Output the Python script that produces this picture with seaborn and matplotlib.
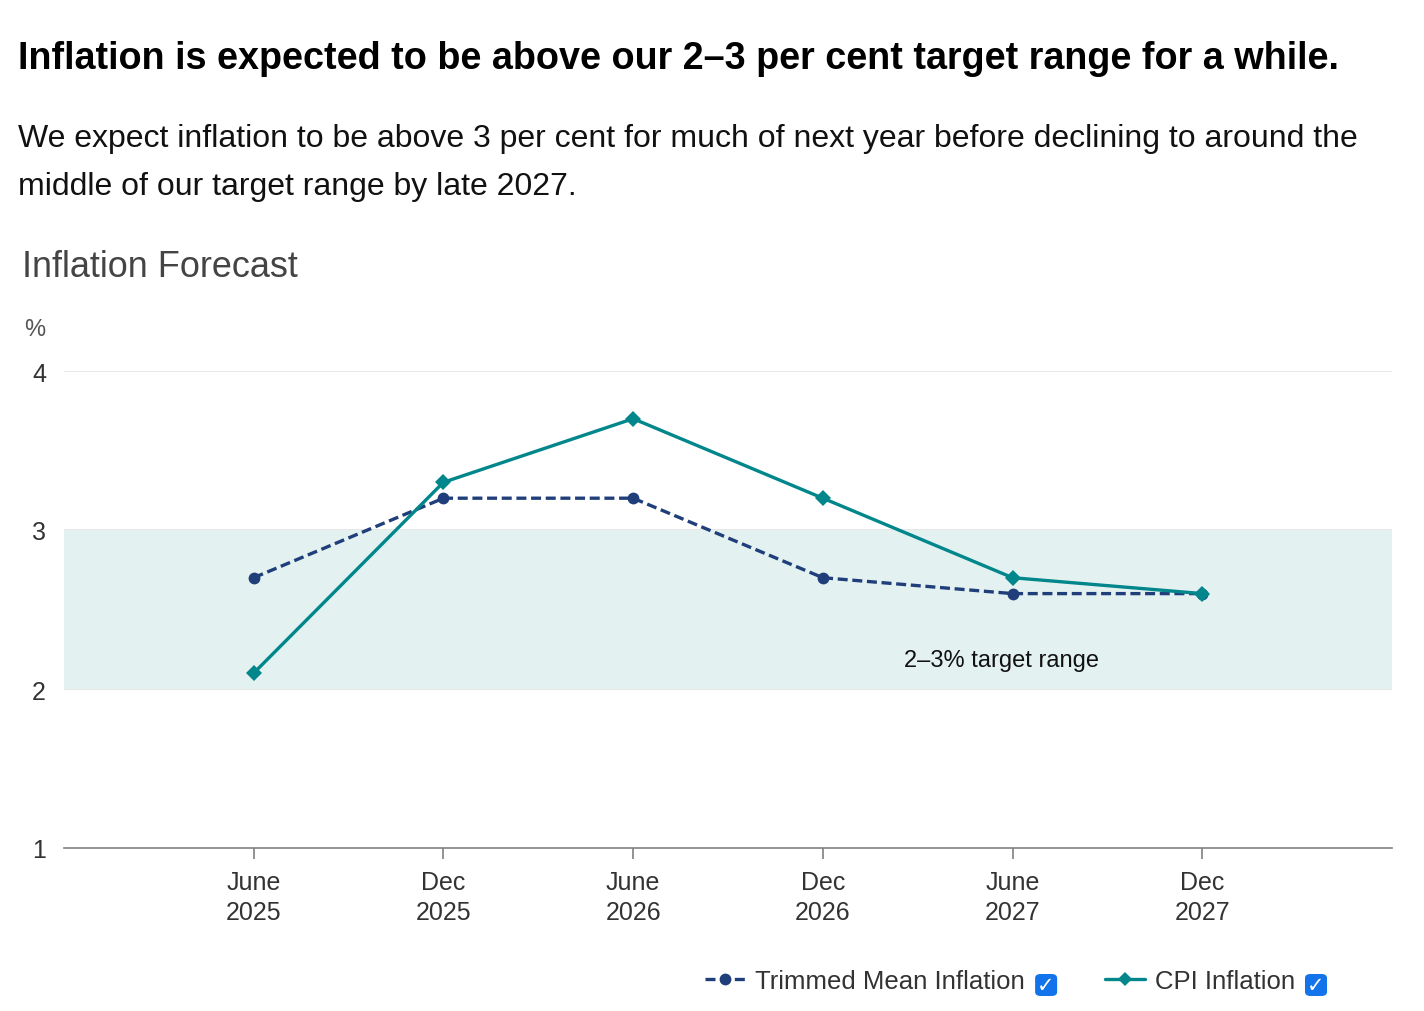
import matplotlib
matplotlib.use("Agg")
import matplotlib.pyplot as plt
import seaborn as sns
import pandas as pd
from matplotlib.patches import FancyBboxPatch
from matplotlib.lines import Line2D

periods = ["June\n2025", "Dec\n2025", "June\n2026", "Dec\n2026", "June\n2027", "Dec\n2027"]
trimmed_mean = [2.7, 3.2, 3.2, 2.7, 2.6, 2.6]
cpi = [2.1, 3.3, 3.7, 3.2, 2.7, 2.6]
y_ticks = [1, 2, 3, 4]
band_low, band_high = 2, 3

title = "Inflation is expected to be above our 2–3 per cent target range for a while."
subtitle_lines = ["We expect inflation to be above 3 per cent for much of next year before declining to around the",
                  "middle of our target range by late 2027."]
chart_title = "Inflation Forecast"
band_label = "2–3% target range"
series_names = ["Trimmed Mean Inflation", "CPI Inflation"]

NAVY = "#203f7a"
TEAL = "#00868b"

sns.set_theme(style="white")
plt.rcParams["font.family"] = ["Liberation Sans", "DejaVu Sans"]

df = pd.DataFrame({
    "x": list(range(len(periods))) * 2,
    "value": trimmed_mean + cpi,
    "series": [series_names[0]] * len(periods) + [series_names[1]] * len(periods),
})

W_PX, H_PX = 1424, 1012
fig = plt.figure(figsize=(W_PX / 100, H_PX / 100), dpi=100)
ax = fig.add_axes([64 / W_PX, 1 - 849 / H_PX, (1392 - 64) / W_PX, (849 - 372) / H_PX])

ax.axhspan(band_low, band_high, color="#e3f2f1", zorder=1, lw=0)
for yv in y_ticks[1:]:
    ax.axhline(yv, color="#e3e3e3", lw=1.2, zorder=0.5)

sns.lineplot(data=df, x="x", y="value", hue="series", style="series",
             palette={series_names[0]: NAVY, series_names[1]: TEAL},
             markers={series_names[0]: "o", series_names[1]: "D"},
             dashes={series_names[0]: (3.0, 1.4), series_names[1]: ""},
             markersize=8.5, linewidth=2.4, markeredgewidth=0, ax=ax, legend=False, zorder=3)

ax.set_xlim(-1, 6)
ax.set_ylim(1, 4)
ax.set_xticks(range(len(periods)))
ax.set_xticklabels(periods, fontsize=18, color="#333333", linespacing=1.3)
ax.set_yticks(y_ticks)
ax.set_yticklabels([str(v) for v in y_ticks], fontsize=18, color="#333333")
ax.set_xlabel("")
ax.set_ylabel("")
for s in ["top", "right", "left"]:
    ax.spines[s].set_visible(False)
ax.spines["bottom"].set_color("#808080")
ax.spines["bottom"].set_linewidth(1.2)
ax.tick_params(axis="x", length=8, width=1.2, color="#808080", pad=8, bottom=True)
ax.tick_params(axis="y", length=0, pad=13)

ax.text(3.94, 2.18, band_label, fontsize=17, color="#111111", ha="center", va="center", zorder=4)

fig.text(18 / W_PX, 1 - 69 / H_PX, title, fontsize=27.2, fontweight="bold", color="#000000", va="baseline")
fig.text(18 / W_PX, 1 - 147 / H_PX, subtitle_lines[0], fontsize=23, color="#111111", va="baseline")
fig.text(18 / W_PX, 1 - 195 / H_PX, subtitle_lines[1], fontsize=23, color="#111111", va="baseline")
fig.text(22 / W_PX, 1 - 277 / H_PX, chart_title, fontsize=25.9, color="#444444", va="baseline")
fig.text(24 / W_PX, 1 - 336 / H_PX, "%", fontsize=17, color="#555555", va="baseline")

handles = [
    Line2D([], [], color=NAVY, lw=2.4, ls=(0, (3.0, 1.4)), marker="o", markersize=8.5, markeredgewidth=0),
    Line2D([], [], color=TEAL, lw=2.4, marker="D", markersize=7.5, markeredgewidth=0),
]
anchor_x = 1300
leg = fig.legend(handles, series_names, loc="center right", bbox_to_anchor=(anchor_x / W_PX, 1 - 982 / H_PX),
                 ncol=2, frameon=False, fontsize=18.5, handlelength=1.56, handletextpad=0.39,
                 columnspacing=3.1, labelcolor="#333333")

fig.canvas.draw()
renderer = fig.canvas.get_renderer()
bb_last = leg.get_texts()[-1].get_window_extent(renderer)
shift = 1295 - bb_last.x1
leg.set_bbox_to_anchor(((anchor_x + shift) / W_PX, 1 - 982 / H_PX), transform=fig.transFigure)
fig.canvas.draw()

W, H = fig.bbox.width, fig.bbox.height
for t in leg.get_texts():
    bb = t.get_window_extent(renderer)
    x0 = bb.x1 + 10
    yc = H - 986
    size = 22
    box = FancyBboxPatch((x0 / W, (yc - size / 2) / H), size / W, size / H,
                         boxstyle="round,pad=0,rounding_size=0.004", transform=fig.transFigure,
                         facecolor="#1273eb", edgecolor="none")
    fig.patches.append(box)
    fig.text((x0 + size / 2) / W, yc / H, "✓", color="white", fontsize=15, fontweight="bold",
             ha="center", va="center", family=["DejaVu Sans"])

fig.savefig("out.png", dpi=100)
